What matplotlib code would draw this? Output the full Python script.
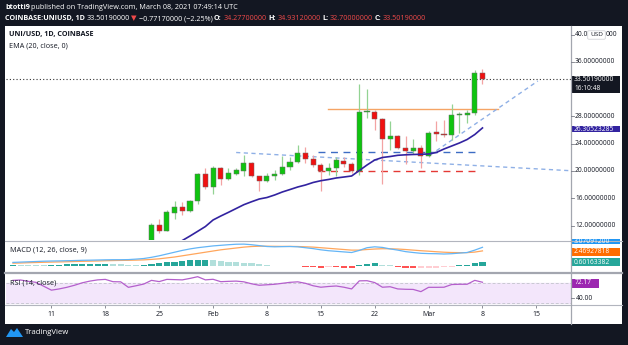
import numpy as np
import matplotlib.pyplot as plt
from matplotlib.patches import Rectangle, FancyBboxPatch, Polygon
from matplotlib.lines import Line2D

plt.rcParams['font.family'] = ['Open Sans', 'DejaVu Sans']

W, H = 628, 345

# day 0 = Jan 11 2021
c_days = list(range(13, 57))
c_open = [9.3, 12.1, 11.26, 13.9, 14.68, 14.1, 15.6, 19.55, 17.7, 20.4, 18.9, 19.6,
          20.05, 21.1, 19.2, 18.6, 19.3, 19.5, 20.6, 21.35, 22.6, 21.75, 20.9, 20.0,
          20.4, 21.5, 21.0, 20.0, 28.6, 28.7, 27.55, 24.7, 25.1, 23.35, 23.0, 23.4,
          22.25, 25.65, 25.45, 25.2, 28.2, 28.15, 28.45, 34.277]
c_high = [12.34, 12.93, 14.3, 15.56, 15.4, 15.75, 19.7, 20.5, 20.7, 20.6, 20.4, 20.5,
          22.3, 21.35, 19.3, 19.65, 20.15, 22.2, 22.1, 23.8, 23.55, 22.3, 21.2, 21.1,
          22.1, 22.1, 21.35, 32.8, 31.95, 28.9, 27.7, 27.3, 25.2, 25.1, 24.7, 23.8,
          25.85, 27.3, 27.45, 29.8, 28.7, 28.9, 34.8, 34.9312]
c_low = [9.1, 10.9, 11.2, 13.0, 13.56, 14.0, 15.1, 17.3, 16.6, 17.95, 18.7, 19.45,
         19.3, 19.1, 17.1, 18.45, 18.7, 19.35, 20.15, 21.1, 21.1, 20.6, 17.1, 19.4,
         19.2, 20.6, 19.65, 19.4, 27.7, 26.0, 18.1, 23.1, 23.2, 21.0, 22.45, 20.4,
         22.1, 24.4, 25.0, 24.55, 25.6, 27.0, 28.2, 32.7]
c_close = [12.09, 11.26, 13.95, 14.73, 14.1, 15.65, 19.5, 17.7, 20.4, 18.9, 19.75, 20.1,
           21.1, 19.2, 18.6, 19.3, 19.5, 20.6, 21.35, 22.6, 21.75, 20.9, 20.05, 20.5,
           21.6, 21.0, 20.0, 28.7, 28.8, 27.6, 24.7, 25.1, 23.4, 23.0, 23.4, 22.25,
           25.6, 25.45, 25.2, 28.2, 28.3, 28.45, 34.277, 33.5019]

ema_days = list(range(17, 57))
ema = [9.82, 10.48, 11.17, 11.87, 12.83, 13.41, 13.95, 14.51, 15.07, 15.5, 15.9, 16.12,
       16.49, 16.93, 17.29, 17.66, 17.95, 18.32, 18.58, 18.76, 18.98, 19.12, 19.27, 20.07,
       20.88, 21.61, 21.98, 22.12, 22.3, 22.37, 22.42, 22.45, 22.49, 22.71, 23.22, 23.66,
       24.1, 24.61, 25.34, 26.305]

ind_days = list(range(-5, 57))
macd = [0.55, 0.6, 0.65, 0.7, 0.75, 0.78, 0.8, 0.83, 0.86, 0.9, 0.92, 0.95, 0.98, 1.0,
        1.0, 1.02, 1.1, 1.2, 1.4, 1.65, 1.95, 2.25, 2.55, 2.8, 3.0, 3.15, 3.3, 3.4, 3.5,
        3.58, 3.6, 3.5, 3.35, 3.2, 3.15, 3.18, 3.2, 3.15, 3.0, 2.85, 2.65, 2.5, 2.4, 2.3,
        2.2, 2.55, 3.0, 3.15, 3.05, 2.8, 2.6, 2.35, 2.2, 2.07, 2.02, 2.0, 1.95, 2.0, 2.1,
        2.2, 2.6, 3.07]
signal = [0.42, 0.45, 0.5, 0.53, 0.57, 0.6, 0.63, 0.66, 0.7, 0.73, 0.76, 0.79, 0.83, 0.86,
          0.88, 0.9, 0.93, 0.97, 1.05, 1.15, 1.3, 1.45, 1.65, 1.85, 2.05, 2.25, 2.45, 2.65,
          2.8, 2.95, 3.1, 3.2, 3.25, 3.25, 3.23, 3.22, 3.22, 3.2, 3.15, 3.1, 3.0, 2.9, 2.8,
          2.7, 2.6, 2.6, 2.7, 2.78, 2.83, 2.82, 2.78, 2.7, 2.6, 2.5, 2.42, 2.33, 2.25, 2.2,
          2.18, 2.18, 2.27, 2.47]
hist = [0.2, 0.18, 0.16, 0.15, 0.14, 0.15, 0.18, 0.22, 0.25, 0.28, 0.3, 0.33, 0.36, 0.3,
        0.22, 0.15, 0.12, 0.2, 0.3, 0.42, 0.55, 0.68, 0.8, 0.88, 0.92, 0.95, 0.93, 0.75,
        0.68, 0.6, 0.5, 0.38, 0.3, 0.15, -0.05, -0.08, -0.05, -0.05, -0.15, -0.25, -0.3,
        -0.2, -0.22, -0.4, -0.45, 0.1, 0.3, 0.38, 0.2, 0.1, -0.15, -0.3, -0.45, -0.35,
        -0.3, -0.3, -0.25, -0.15, 0.05, 0.2, 0.4, 0.6]
rsi = [76, 76.7, 74, 72, 64, 56, 58.5, 61.8, 66, 71, 74.5, 77, 78, 73.3, 73, 61.8, 65,
       68.5, 76, 73.5, 78, 77.5, 77, 80, 83.5, 77, 78.2, 73.3, 74, 74.5, 73, 69, 66, 67,
       68, 70, 72, 73, 70, 65, 62, 63.5, 64.5, 62, 58.5, 75, 75.3, 71.5, 62, 63, 58.5,
       57.8, 57.5, 53, 61.8, 61.8, 62, 67.5, 68, 68, 76, 72.17]

date_ticks = [0, 7, 14, 21, 28, 35, 42, 49, 56, 63]
date_labels = ['11', '18', '25', 'Feb', '8', '15', '22', 'Mar', '8', '15']
price_ticks = [12, 16, 20, 24, 28, 36]
last_price = 33.5019


def fx(px):
    return px / W


def fy(py):
    return 1 - py / H


def px_axes(x0, y0, x1, y1):
    a = fig.add_axes([fx(x0), fy(y1), (x1 - x0) / W, (y1 - y0) / H])
    a.set_xlim(-5.9, 67.5)
    a.set_facecolor('white')
    for s in a.spines.values():
        s.set_visible(False)
    a.set_xticks([])
    a.set_yticks([])
    return a


def hline(y, x0=5, x1=622, c='#b2b5be', lw=0.8):
    fig.add_artist(Line2D([fx(x0), fx(x1)], [fy(y), fy(y)], transform=fig.transFigure, color=c, lw=lw))


fig = plt.figure(figsize=(W / 100, H / 100), dpi=100, facecolor='#131722')
fig.add_artist(Rectangle((fx(5), fy(324)), (622 - 5) / W, (324 - 26) / H, zorder=-5,
                         transform=fig.transFigure, facecolor='white', edgecolor='none'))

# ---- main price panel
ax = px_axes(6, 27, 571, 240)
ax.set_ylim(9.9, 41.08)
for d, o, h, l, c in zip(c_days, c_open, c_high, c_low, c_close):
    up = c >= o
    ax.vlines(d, l, h, color='#93d393' if up else '#f3a3a3', lw=0.9, zorder=2)
    ax.bar(d, max(abs(c - o), 0.12), bottom=min(o, c), width=0.66,
           color='#0fc40f' if up else '#f01010', edgecolor='#6b6b6b', lw=0.35, zorder=3)
ax.plot(ema_days, ema, color='#3223a0', lw=1.2, zorder=4)
ax.axhline(last_price, color='#333333', lw=0.8, ls=(0, (1, 2)), zorder=1)
ax.plot([35.9, 58.0], [29.08, 29.08], color='#f5a465', lw=1.0, zorder=1)
ax.plot([34.6, 55.0], [22.74, 22.74], color='#3d6cc4', lw=1.0, ls=(0, (5, 4)), zorder=1)
ax.plot([34.6, 55.0], [20.0, 20.0], color='#e53935', lw=1.0, ls=(0, (5, 4)), zorder=1)
ax.plot([24.0, 67.5], [22.71, 20.04], color='#8fb0e6', lw=1.0, ls=(0, (3, 2.5)), zorder=1)
ax.plot([49.2, 63.2], [22.34, 33.18], color='#8fb0e6', lw=1.0, ls=(0, (3, 2.5)), zorder=1)

fig.text(fx(9), fy(34.5), 'UNI/USD, 1D, COINBASE', fontsize=5.2, weight='bold', color='#131722', va='center')
fig.text(fx(9), fy(46), 'EMA (20, close, 0)', fontsize=5.2, color='#131722', va='center')

# ---- MACD panel
ax2 = px_axes(6, 241, 571, 272)
ax2.set_ylim(-1.05, 4.12)
cols = []
for i, v in enumerate(hist):
    prev = hist[i - 1] if i > 0 else v
    if v >= 0:
        cols.append('#26a69a' if v >= prev else '#b2dfdb')
    else:
        cols.append('#ff5252' if v < prev else '#ffcdd2')
ax2.bar(ind_days, hist, width=0.8, color=cols, zorder=1)
ax2.plot(ind_days, macd, color='#64b5f6', lw=0.9, zorder=3)
ax2.plot(ind_days, signal, color='#ffa65c', lw=0.9, zorder=2)
fig.text(fx(10), fy(250), 'MACD (12, 26, close, 9)', fontsize=5.2, color='#131722', va='center')

# ---- RSI panel
ax3 = px_axes(6, 274, 571, 305)
ax3.set_ylim(25.7, 89)
ax3.axhspan(30, 70, color='#f3e6fb', zorder=0)
ax3.axhline(70, color='#c9c9d2', lw=0.7, ls=(0, (3, 2)))
ax3.axhline(30, color='#c9c9d2', lw=0.7, ls=(0, (3, 2)))
ax3.plot(ind_days, rsi, color='#b45fcc', lw=0.9, zorder=3)
fig.text(fx(10), fy(283), 'RSI (14, close)', fontsize=5.2, color='#131722', va='center')
ax3.set_xticks(date_ticks, date_labels)
ax3.tick_params(axis='x', length=2, width=0.6, color='#787b86', pad=2, labelsize=5, labelcolor='#131722')

# panel separators
hline(240.5)
hline(273, lw=1.6, c='#a3a6af')
hline(305.2)
fig.add_artist(Line2D([fx(571), fx(571)], [fy(26), fy(324)], transform=fig.transFigure, color='#a3a6af', lw=0.9))

# ---- price axis labels
for p in price_ticks:
    y = 171 - (p - 20) * 6.83
    fig.text(fx(575), fy(y), f'{p:.8f}', fontsize=4.8, color='#131722', va='center')
    hline(y, 571, 573.5, c='#787b86', lw=0.6)
# 40.00000000 is half hidden by the USD badge
hline(34.5, 571, 573.5, c='#787b86', lw=0.6)
fig.text(fx(575), fy(34.5), '40.0', fontsize=4.8, color='#131722', va='center')
fig.text(fx(606), fy(34.5), '000', fontsize=4.8, color='#131722', va='center')
fig.add_artist(FancyBboxPatch((fx(589), fy(38.5)), 15 / W, 7 / H, boxstyle='round,pad=0.002',
                              transform=fig.transFigure, facecolor='white', edgecolor='#c8cad0', lw=0.5))
fig.text(fx(596.5), fy(35), 'USD', fontsize=4.6, color='#131722', va='center', ha='center')


def label_box(y0, y1, color, lines, tc='white'):
    fig.add_artist(Rectangle((fx(571), fy(y1)), 49 / W, (y1 - y0) / H, transform=fig.transFigure,
                             facecolor=color, edgecolor='none'))
    n = len(lines)
    for k, s in enumerate(lines):
        yy = y0 + (y1 - y0) * (k + 0.5) / n
        fig.text(fx(574), fy(yy), s, fontsize=4.8, color=tc, va='center')


label_box(75.5, 92.5, '#131722', ['33.50190000', '16:10:48'])
label_box(126, 132.5, '#3223a0', ['26.30523285'])
label_box(238.5, 244, '#2196f3', ['3.07091200'])
label_box(247.5, 255.5, '#ff6d00', ['2.46927818'])
label_box(258, 266.3, '#26a69a', ['0.60163382'])
fig.add_artist(Rectangle((fx(572), fy(287.7)), 27 / W, 9.2 / H, transform=fig.transFigure,
                         facecolor='#9c27b0', edgecolor='none'))
fig.text(fx(575), fy(283), '72.17', fontsize=4.8, color='white', va='center')
fig.text(fx(576), fy(298), '40.00', fontsize=4.8, color='#131722', va='center')
hline(298, 571, 573.5, c='#787b86', lw=0.6)

# ---- header
renderer = fig.canvas.get_renderer()


def runs(x, y, parts, size=5.2):
    for s, c, w in parts:
        t = fig.text(fx(x), fy(y), s, fontsize=size, color=c, weight=w, va='center')
        x += t.get_window_extent(renderer).width + 1.6


runs(5, 7.5, [('btotti9', 'white', 'bold'),
              ('published on TradingView.com, March 08, 2021 07:49:14 UTC', 'white', 'normal')])
red = '#f04a4a'
runs(5, 18.5, [('COINBASE:UNIUSD, 1D', 'white', 'bold'), ('33.50190000', 'white', 'normal'),
               ('\u25bc', red, 'normal'), ('\u22120.77170000 (\u22122.25%)', 'white', 'normal'),
               ('O:', 'white', 'bold'), ('34.27700000', red, 'normal'),
               ('H:', 'white', 'bold'), ('34.93120000', red, 'normal'),
               ('L:', 'white', 'bold'), ('32.70000000', red, 'normal'),
               ('C:', 'white', 'bold'), ('33.50190000', red, 'normal')])

# ---- footer
fig.add_artist(Polygon([(fx(6), fy(337)), (fx(11), fy(329)), (fx(14), fy(332)), (fx(17), fy(328)),
                        (fx(23), fy(337))], closed=True, transform=fig.transFigure,
                       facecolor='#2196f3', edgecolor='none'))
fig.text(fx(25), fy(333), 'TradingView', fontsize=5.6, color='white', va='center')

fig.savefig('out.png', dpi=100, facecolor=fig.get_facecolor())
